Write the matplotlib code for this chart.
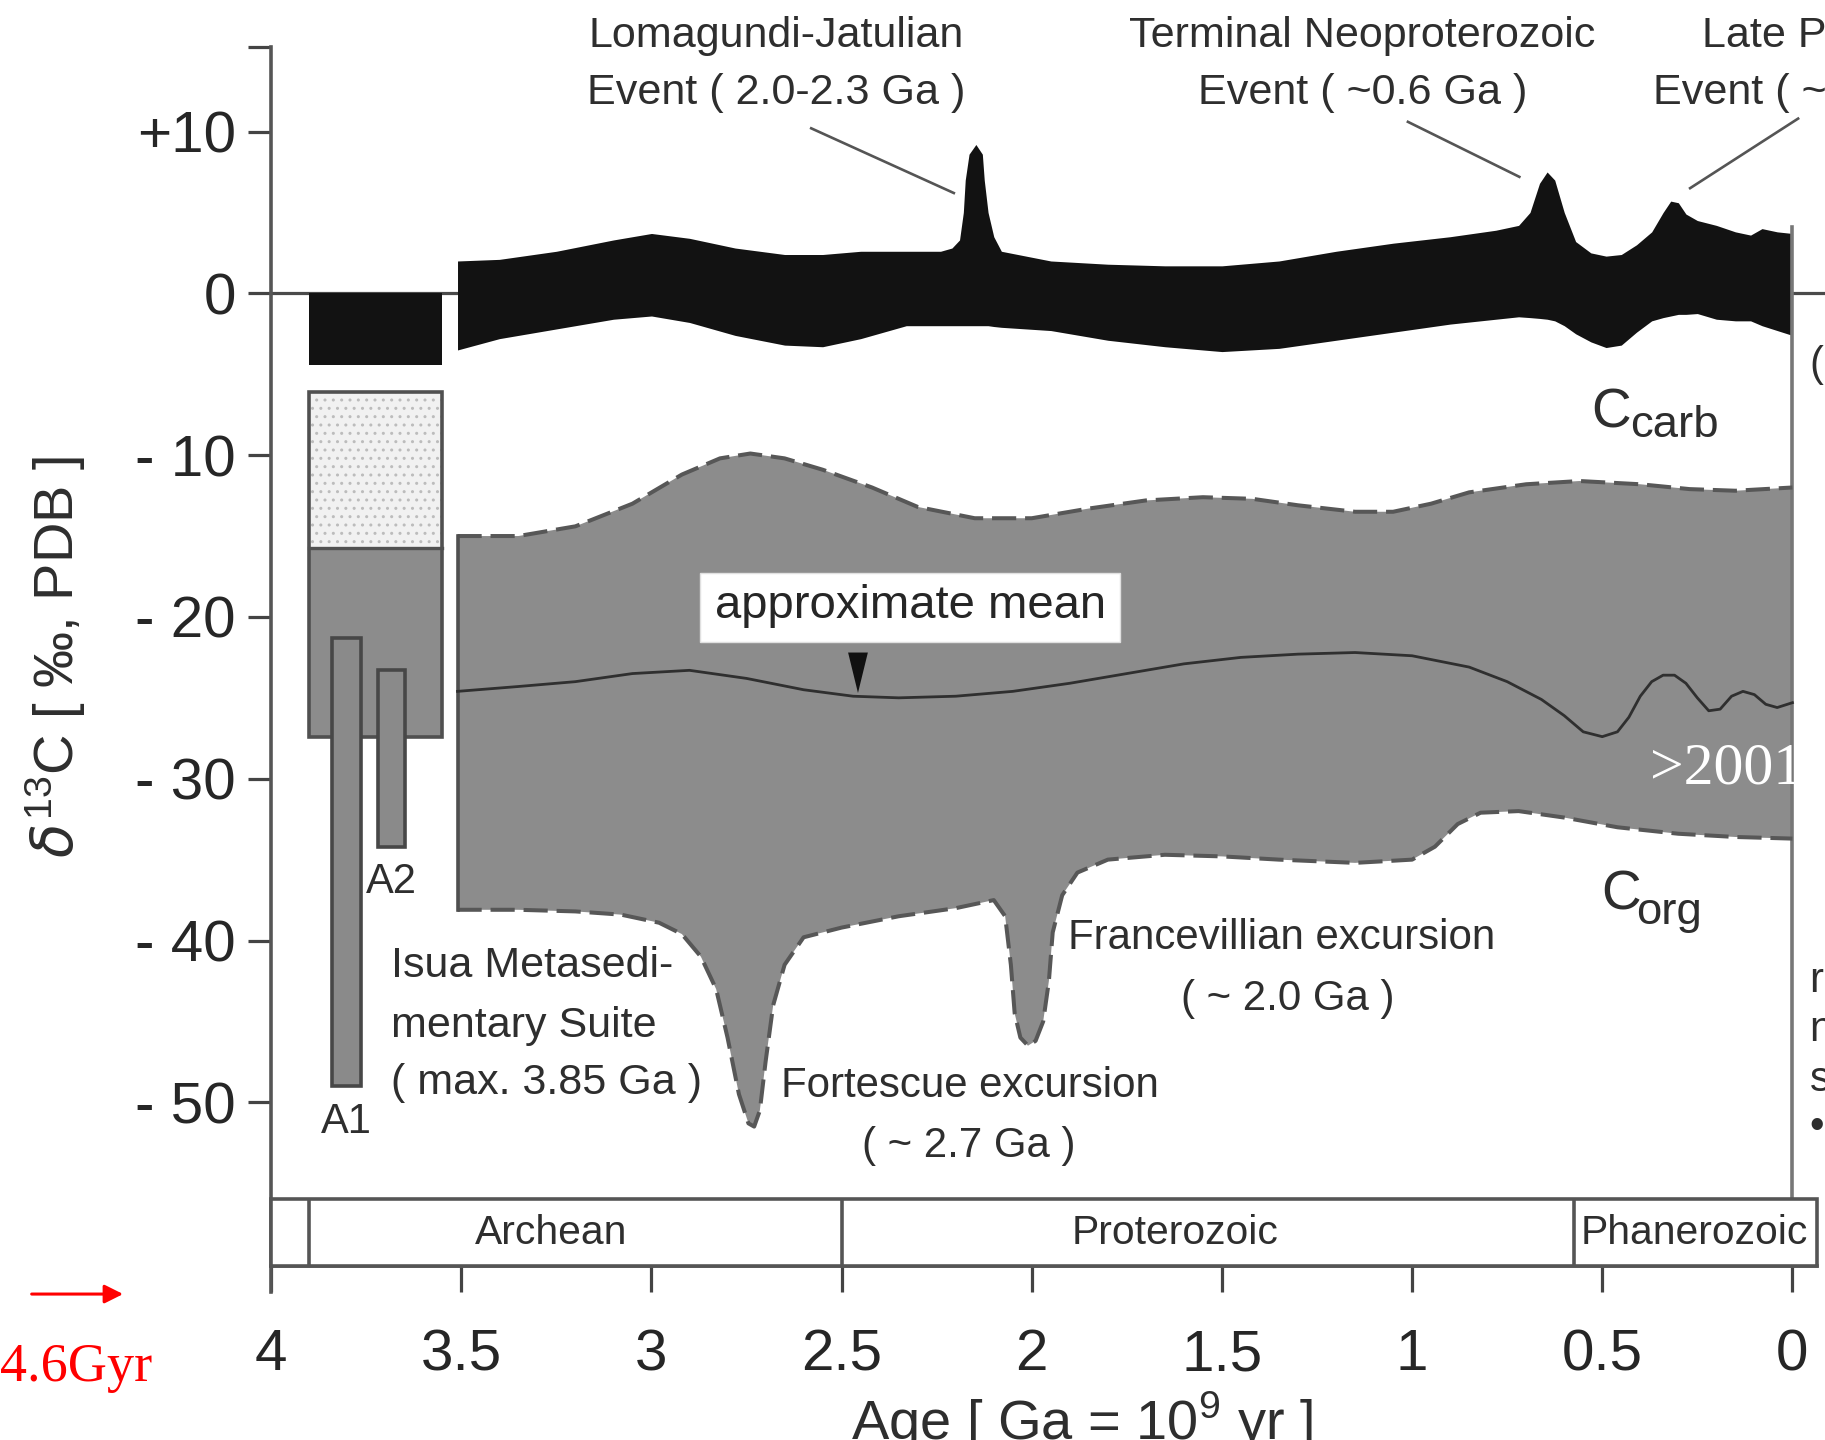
import matplotlib
matplotlib.use('Agg')
import matplotlib.pyplot as plt
from matplotlib import font_manager
from matplotlib.patches import Rectangle, Polygon

# fonts: narrow helvetica look if we have it
names = {f.name for f in font_manager.fontManager.ttflist}
if 'Liberation Sans Narrow' in names:
    NARROW, NS = 'Liberation Sans Narrow', 1.0
else:
    NARROW, NS = 'Liberation Sans', 0.84
REG = 'Liberation Sans'
SERIF = 'Liberation Serif'

plt.rcParams['font.family'] = [NARROW, 'DejaVu Sans']
plt.rcParams['mathtext.fontset'] = 'custom'
plt.rcParams['mathtext.rm'] = NARROW
plt.rcParams['hatch.linewidth'] = 1.0

# ---------------- data (age in Ga, delta13C in permil) ----------------
# C_carb band
carb_age = [3.51, 3.40, 3.25, 3.10, 3.00, 2.90, 2.78, 2.65, 2.55, 2.45, 2.33, 2.24,
            2.21, 2.19, 2.18, 2.175, 2.165, 2.147, 2.13, 2.125, 2.115, 2.10, 2.08,
            1.95, 1.80, 1.65, 1.50, 1.35, 1.20, 1.05, 0.90, 0.78, 0.72, 0.69, 0.665,
            0.645, 0.625, 0.60, 0.57, 0.53, 0.49, 0.45, 0.41, 0.37, 0.34, 0.32, 0.30,
            0.28, 0.25, 0.20, 0.15, 0.11, 0.08, 0.04, 0.0]
carb_top = [2.0, 2.1, 2.6, 3.3, 3.7, 3.4, 2.8, 2.4, 2.4, 2.6, 2.6, 2.6,
            2.8, 3.3, 5.0, 7.0, 8.6, 9.2, 8.6, 7.0, 5.0, 3.5, 2.6,
            2.0, 1.8, 1.7, 1.7, 2.0, 2.6, 3.1, 3.5, 3.9, 4.2, 5.0, 6.8,
            7.5, 7.0, 5.0, 3.2, 2.5, 2.3, 2.4, 3.0, 3.8, 5.0, 5.7, 5.6,
            4.9, 4.5, 4.2, 3.8, 3.6, 4.0, 3.8, 3.7]
carb_bot = [-3.5, -2.8, -2.2, -1.6, -1.4, -1.8, -2.6, -3.2, -3.3, -2.8, -2.0, -2.0,
            -2.0, -2.0, -2.0, -2.0, -2.0, -2.0, -2.0, -2.0, -2.0, -2.05, -2.1,
            -2.3, -2.9, -3.3, -3.6, -3.4, -2.9, -2.4, -1.9, -1.6, -1.45, -1.5, -1.55,
            -1.6, -1.7, -2.0, -2.5, -3.0, -3.35, -3.2, -2.4, -1.7, -1.5, -1.4, -1.3,
            -1.3, -1.25, -1.6, -1.7, -1.7, -2.0, -2.3, -2.6]

# C_org envelope
org_top_age = [3.51, 3.35, 3.20, 3.05, 2.92, 2.82, 2.74, 2.65, 2.55, 2.42, 2.30, 2.15,
               2.00, 1.85, 1.70, 1.55, 1.42, 1.30, 1.15, 1.05, 0.95, 0.85, 0.70,
               0.56, 0.40, 0.27, 0.15, 0.0]
org_top = [-15.0, -15.0, -14.4, -13.0, -11.2, -10.2, -9.9, -10.2, -10.9, -12.0, -13.2, -13.9,
           -13.9, -13.3, -12.8, -12.6, -12.7, -13.1, -13.5, -13.5, -13.0, -12.3, -11.8,
           -11.6, -11.8, -12.1, -12.2, -12.0]
org_bot_age = [3.51, 3.35, 3.20, 3.08, 2.98, 2.92, 2.87, 2.83, 2.80, 2.77, 2.745, 2.73,
               2.715, 2.70, 2.68, 2.65, 2.60, 2.50, 2.35, 2.20, 2.10, 2.07, 2.055, 2.045,
               2.03, 2.01, 1.99, 1.97, 1.955, 1.945, 1.92, 1.88, 1.80, 1.65, 1.50, 1.35,
               1.15, 1.00, 0.94, 0.88, 0.82, 0.72, 0.60, 0.46, 0.30, 0.15, 0.0]
org_bot = [-38.1, -38.1, -38.2, -38.4, -38.9, -39.6, -41.0, -43.0, -46.0, -49.5, -51.3, -51.5,
           -50.5, -47.5, -44.0, -41.5, -39.8, -39.2, -38.5, -38.0, -37.5, -38.5, -41.5, -44.5,
           -46.0, -46.5, -46.2, -45.0, -42.5, -39.5, -37.2, -35.8, -35.0, -34.7, -34.8, -35.0,
           -35.2, -35.0, -34.2, -32.8, -32.1, -32.0, -32.4, -33.0, -33.4, -33.6, -33.7]

mean_age = [3.51, 3.35, 3.20, 3.05, 2.90, 2.75, 2.60, 2.47, 2.35, 2.20, 2.05, 1.90, 1.75,
            1.60, 1.45, 1.30, 1.15, 1.00, 0.85, 0.75, 0.66, 0.60, 0.55, 0.50, 0.46, 0.43,
            0.40, 0.37, 0.34, 0.31, 0.28, 0.25, 0.22, 0.19, 0.16, 0.13, 0.10, 0.07, 0.04, 0.0]
mean_val = [-24.6, -24.3, -24.0, -23.5, -23.3, -23.8, -24.5, -24.9, -25.0, -24.9, -24.6, -24.1, -23.5,
            -22.9, -22.5, -22.3, -22.2, -22.4, -23.1, -24.0, -25.1, -26.1, -27.1, -27.4, -27.1, -26.2,
            -24.9, -24.0, -23.6, -23.6, -24.1, -25.0, -25.8, -25.7, -24.9, -24.6, -24.8, -25.4, -25.6, -25.3]

# Isua (3.85 Ga) column
isua_age = [3.90, 3.55]
isua_carb = [0.0, -4.4]
isua_light = [-6.1, -15.75]
isua_dark = [-15.75, -27.4]
a_names = ['A1', 'A2']
a_age = [(3.839, 3.764), (3.72, 3.647)]
a_range = [(-21.3, -49.0), (-23.3, -34.2)]

# eons
eon_names = ['Archean', 'Proterozoic', 'Phanerozoic']
eon_edges = [3.90, 2.50, 0.574, -0.064]
eon_label_x = [3.265, 1.622, 0.257]

age_ticks = [4, 3.5, 3, 2.5, 2, 1.5, 1, 0.5, 0]
age_labels = ['4', '3.5', '3', '2.5', '2', '1.5', '1', '0.5', '0']
d13_ticks = [15.25, 10, 0, -10, -20, -30, -40, -50]
d13_labels = ['', '+10', '0', '- 10', '- 20', '- 30', '- 40', '- 50']

BAND_TOP, BAND_BOT = -55.97, -60.14
INK = '#2e2e2e'
LINE = '#555555'
GRAY = '#8c8c8c'

fig = plt.figure(figsize=(18.25, 14.4), dpi=100)
ax = fig.add_axes([0, 0, 1, 1])
ax.set_xlim(4.713, -0.0857)
ax.set_ylim(-70.87, 18.13)
ax.patch.set_visible(False)

# axes frame
ax.spines['top'].set_visible(False)
ax.spines['left'].set_position(('data', 4.0))
ax.spines['left'].set_bounds(-61.73, 15.25)
ax.spines['bottom'].set_position(('data', BAND_BOT))
ax.spines['bottom'].set_bounds(eon_edges[-1], 4.0)
ax.spines['right'].set_position(('data', 0.0))
ax.spines['right'].set_bounds(BAND_TOP, 4.1)
for s in ['left', 'bottom', 'right']:
    ax.spines[s].set_color(LINE)
    ax.spines[s].set_linewidth(2.6)
ax.spines['right'].set_color('#777777')

ax.set_xticks(age_ticks)
ax.set_xticklabels(age_labels)
ax.set_yticks(d13_ticks)
ax.set_yticklabels(d13_labels)
ax.tick_params(axis='x', direction='out', length=18.5, width=2.3, pad=26,
               labelsize=50 * NS, color='#444444', labelcolor='#262626')
ax.tick_params(axis='y', direction='out', length=16.5, width=2.3, pad=9,
               labelsize=50 * NS, color='#444444', labelcolor='#262626')
ax.tick_params(right=False, labelright=False)

# zero line
ax.axhline(0, xmin=(4.713 - 4.0) / (4.713 + 0.0857), xmax=1, color='#4a4a4a', lw=2.3, zorder=1)

# C_carb
ax.fill_between(carb_age, carb_bot, carb_top, color='#121212', lw=0, zorder=2)
ax.add_patch(Rectangle((isua_age[0], isua_carb[0]), isua_age[1] - isua_age[0],
                       isua_carb[1] - isua_carb[0], fc='#121212', ec='none', zorder=2))

# C_org envelope
poly_x = org_top_age + org_bot_age[::-1]
poly_y = org_top + org_bot[::-1]
ax.fill(poly_x, poly_y, color=GRAY, lw=0, zorder=2)
ax.plot(org_top_age, org_top, color='#575757', lw=2.9, ls=(0, (6, 2.2)), zorder=3)
ax.plot(org_bot_age, org_bot, color='#575757', lw=2.9, ls=(0, (6, 2.2)), zorder=3)
ax.plot([org_top_age[0]] * 2, [org_top[0], org_bot[0]], color='#4f4f4f', lw=2.6, zorder=3)
ax.plot(mean_age, mean_val, color='#2f2f2f', lw=2.0, zorder=4)

# Isua column
w = isua_age[1] - isua_age[0]
ax.add_patch(Rectangle((isua_age[0], isua_light[1]), w, isua_light[0] - isua_light[1],
                       fc='#f1f1f1', ec='#bcbcbc', lw=0, hatch='..', zorder=2))
ax.add_patch(Rectangle((isua_age[0], isua_dark[1]), w, isua_dark[0] - isua_dark[1],
                       fc=GRAY, ec='none', zorder=2))
ax.add_patch(Rectangle((isua_age[0], isua_dark[1]), w, isua_light[0] - isua_dark[1],
                       fc='none', ec='#505050', lw=2.6, zorder=3))
ax.plot(isua_age, [isua_light[1]] * 2, color='#505050', lw=2.4, zorder=3)
for name, (x0, x1), (y0, y1) in zip(a_names, a_age, a_range):
    ax.add_patch(Rectangle((x0, y1), x1 - x0, y0 - y1, fc='#8a8a8a', ec='#474747',
                           lw=2.6, zorder=4))
    ax.text((x0 + x1) / 2, y1 - 2.2, name, family=REG, fontsize=30, color=INK,
            ha='center', va='center', zorder=5)

# approximate mean label
ax.add_patch(Rectangle((2.872, -21.55), 1.768 - 2.872, 4.25, fc='white', ec='#e0e0e0',
                       lw=1, zorder=5))
ax.text(2.32, -19.35, 'approximate mean', family=REG, fontsize=34, color='#262626',
        ha='center', va='center', zorder=6)
ax.add_patch(Polygon([(2.483, -22.2), (2.431, -22.2), (2.457, -24.7)], closed=True,
                     fc='#111111', ec='none', zorder=6))

# eon band
ax.add_patch(Rectangle((4.0, BAND_BOT), eon_edges[-1] - 4.0, BAND_TOP - BAND_BOT,
                       fc='white', ec=LINE, lw=2.6, zorder=3))
ax.vlines(eon_edges[:-1], BAND_BOT, BAND_TOP, color=LINE, lw=2.6, zorder=3)
for name, x in zip(eon_names, eon_label_x):
    ax.text(x, -58.1, name, fontsize=35 * NS, color=INK, ha='center', va='center', zorder=4)

# event annotations
ev_size = 37 * NS
ax.text(2.672, 15.9, 'Lomagundi-Jatulian', fontsize=ev_size, color=INK, ha='center', va='center')
ax.text(2.672, 12.4, 'Event ( 2.0-2.3 Ga )', fontsize=ev_size, color=INK, ha='center', va='center')
ax.plot([2.58, 2.205], [10.2, 6.2], color=LINE, lw=1.9)
ax.text(1.13, 15.9, 'Terminal Neoproterozoic', fontsize=ev_size, color=INK, ha='center', va='center')
ax.text(1.13, 12.4, 'Event ( ~0.6 Ga )', fontsize=ev_size, color=INK, ha='center', va='center')
ax.plot([1.011, 0.718], [10.6, 7.2], color=LINE, lw=1.9)
ax.text(0.239, 15.9, 'Late Paleozoic', fontsize=ev_size, color=INK, ha='left', va='center')
ax.text(0.367, 12.4, 'Event ( ~0.3 Ga )', fontsize=ev_size, color=INK, ha='left', va='center')
ax.plot([-0.015, 0.269], [10.8, 6.5], color=LINE, lw=1.9)

# excursions
exc_size = 36 * NS
ax.text(1.906, -39.85, 'Francevillian excursion', fontsize=exc_size, color=INK, ha='left', va='center')
ax.text(1.327, -43.6, '( ~ 2.0 Ga )', fontsize=exc_size, color=INK, ha='center', va='center')
ax.text(2.66, -49.0, 'Fortescue excursion', fontsize=exc_size, color=INK, ha='left', va='center')
ax.text(2.165, -52.7, '( ~ 2.7 Ga )', fontsize=exc_size, color=INK, ha='center', va='center')

# Isua text
for txt, y in zip(['Isua Metasedi-', 'mentary Suite', '( max. 3.85 Ga )'], [-41.6, -45.3, -48.8]):
    ax.text(3.685, y, txt, family=REG, fontsize=31, color=INK, ha='left', va='center')

# C_carb / C_org labels
ax.text(0.529, -8.3, 'C', fontsize=47 * NS, color=INK, ha='left', va='baseline')
ax.text(0.426, -8.9, 'carb', fontsize=39 * NS, color=INK, ha='left', va='baseline')
ax.text(0.503, -38.1, 'C', fontsize=47 * NS, color=INK, ha='left', va='baseline')
ax.text(0.410, -39.0, 'org', fontsize=39 * NS, color=INK, ha='left', va='baseline')

# axis labels
ax.text(4.566, -22.5, r'$\delta^{13}$C [ ‰, PDB ]', fontsize=48 * NS, color=INK,
        rotation=90, ha='center', va='center')
ax.text(1.867, -70.9, r'Age [ Ga = 10$^{9}$ yr ]', fontsize=48 * NS, color=INK,
        ha='center', va='baseline')

# fragments of the neighbouring panel at the right edge
frag_txt = ['(', 'r', 'n', 's', '•']
frag_y = [-4.4, -42.5, -45.5, -48.6, -51.5]
for t, y in zip(frag_txt, frag_y):
    ax.text(-0.045, y, t, family=REG, fontsize=30, color=INK, ha='left', va='center')

# slide overlays
ax.text(0.374, -29.45, '>2001', family=SERIF, fontsize=43, color='white',
        ha='left', va='center', zorder=8)
ax.annotate('', xy=(4.382, -61.85), xytext=(4.637, -61.85),
            arrowprops=dict(arrowstyle='-|>', color='red', lw=2.2, mutation_scale=28))
ax.text(4.713, -66.4, '4.6Gyr', family=SERIF, fontsize=39, color='red', ha='left', va='center')

fig.savefig('out.png', dpi=100)
